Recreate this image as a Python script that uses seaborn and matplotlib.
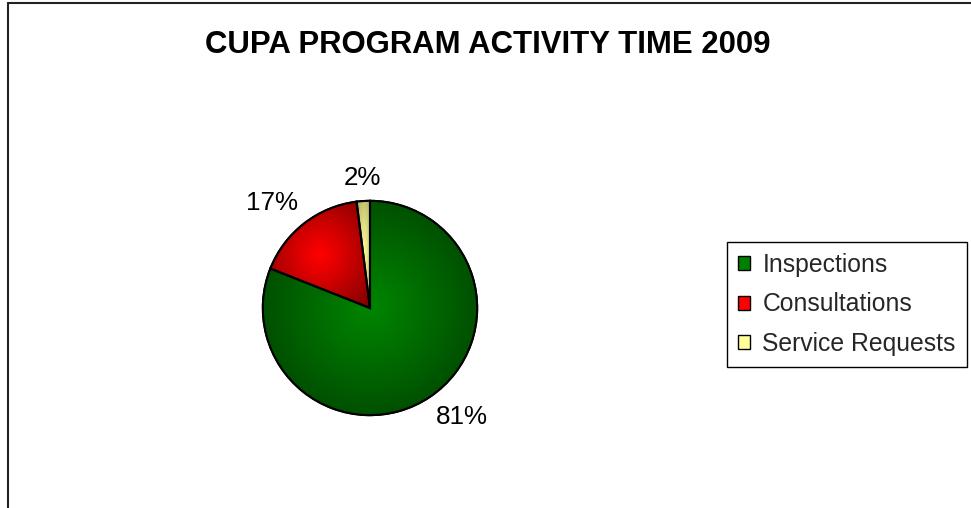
import numpy as np
import matplotlib
matplotlib.use("Agg")
import matplotlib.pyplot as plt
import seaborn as sns
from matplotlib.patches import Patch, Wedge
from matplotlib.lines import Line2D

sns.set_theme(style="white")
plt.rcParams['font.family'] = ['Liberation Sans', 'DejaVu Sans']

categories = ["Inspections", "Consultations", "Service Requests"]
values = [81, 17, 2]
title = "CUPA PROGRAM ACTIVITY TIME 2009"

legend_colors = ["#008000", "#ff0000", "#ffff99"]
center_colors = ["#008400", "#ff0000", "#ffff9a"]
edge_colors = ["#003800", "#7a0000", "#a8a860"]

W, H = 971, 508
fig = plt.figure(figsize=(W / 100, H / 100), dpi=100)
fig.patch.set_facecolor("white")

cx, cy, half = 370, 308, 150
ax = fig.add_axes([(cx - half) / W, (H - cy - half) / H, 2 * half / W, 2 * half / H])
lim = 1.4
ax.set_aspect("equal")
ax.axis("off")

wedges, texts, autotexts = ax.pie(
    values, colors=legend_colors, startangle=90, counterclock=False,
    autopct="%1.0f%%", pctdistance=1.1, labels=None,
    wedgeprops=dict(edgecolor="black", linewidth=1.5),
    textprops=dict(fontsize=18.7, color="black"),
)

# Excel-style label anchoring: box placed just outside the rim
for w, t in zip(wedges, autotexts):
    ang = np.deg2rad((w.theta1 + w.theta2) / 2)
    c, s = np.cos(ang), np.sin(ang)
    t.set_ha("left" if c > 0.3 else ("right" if c < -0.3 else "center"))
    t.set_va("bottom" if s > 0.3 else ("top" if s < -0.3 else "center"))

def hex2rgb(h):
    return np.array(matplotlib.colors.to_rgb(h))

for w, cc, ec in zip(wedges, center_colors, edge_colors):
    ext = w.get_path().get_extents()
    x0, y0, x1, y1 = ext.x0, ext.y0, ext.x1, ext.y1
    n = 200
    xs = np.linspace(x0, x1, n)
    ys = np.linspace(y0, y1, n)
    X, Y = np.meshgrid(xs, ys)
    mx, my = (x0 + x1) / 2, (y0 + y1) / 2
    hw, hh = max((x1 - x0) / 2, 1e-6), max((y1 - y0) / 2, 1e-6)
    tt = np.sqrt(((X - mx) / hw) ** 2 + ((Y - my) / hh) ** 2) / np.sqrt(2)
    tt = np.clip(tt, 0, 1) ** 1.1
    c0, c1 = hex2rgb(cc), hex2rgb(ec)
    img = c0[None, None, :] * (1 - tt[..., None]) + c1[None, None, :] * tt[..., None]
    im = ax.imshow(img, extent=(x0, x1, y0, y1), origin="lower", zorder=1.5,
                   interpolation="bilinear")
    im.set_clip_path(w)
    outline = Wedge(w.center, w.r, w.theta1, w.theta2, facecolor="none",
                    edgecolor="black", linewidth=1.5, zorder=2)
    ax.add_patch(outline)

ax.set_xlim(-lim, lim)
ax.set_ylim(-lim, lim)

fig.text(488 / W, 1 - 53 / H, title, ha="center", va="baseline",
         fontsize=22.4, fontweight="bold", color="black")

handles = [Patch(facecolor=c, edgecolor="black", linewidth=1.0) for c in legend_colors]
leg = fig.legend(handles, categories, loc="upper left",
                 bbox_to_anchor=(727 / W, 1 - 242 / H), bbox_transform=fig.transFigure,
                 fontsize=17.8, frameon=True, fancybox=False, framealpha=1,
                 edgecolor="black", handlelength=0.5, handleheight=0.5,
                 handletextpad=0.48, labelspacing=0.62, borderpad=0.45,
                 borderaxespad=0)
leg.get_frame().set_linewidth(1.0)

fig.add_artist(Line2D([8 / W, 8 / W], [0, 1 - 3 / H], color="#222222", linewidth=1.5,
                      transform=fig.transFigure))
fig.add_artist(Line2D([8 / W, 1], [1 - 3 / H, 1 - 3 / H], color="#222222", linewidth=1.5,
                      transform=fig.transFigure))

fig.savefig("out.png", dpi=100, facecolor="white")
